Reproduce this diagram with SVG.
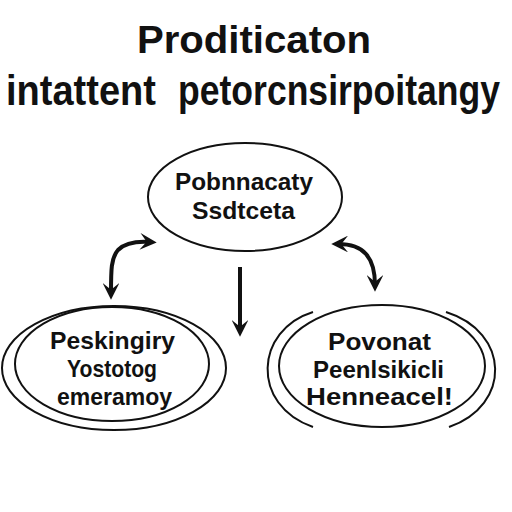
<svg xmlns="http://www.w3.org/2000/svg" width="512" height="512" viewBox="0 0 512 512">
<defs>
<style>
.t{font-family:"Liberation Sans",Arial,sans-serif;font-weight:bold;fill:#111}
.n{font-family:"Liberation Sans",Arial,sans-serif;font-weight:bold;fill:#111;font-size:24px}
.e{fill:none;stroke:#111;stroke-width:2}
.c{fill:none;stroke:#111;stroke-width:4}
</style>
<marker id="ah" viewBox="0 0 10 10" refX="6" refY="5" markerWidth="4.2" markerHeight="4.2" orient="auto-start-reverse">
<path d="M0,0 L10,5 L0,10 L4,5 Z" fill="#111"/>
</marker>
</defs>
<rect width="512" height="512" fill="#fff"/>
<g id="title">
<text class="t" x="137" y="53" font-size="38" textLength="234" lengthAdjust="spacingAndGlyphs">Proditicaton</text>
<text class="t" transform="translate(6,105) scale(1,1.3)" x="0" y="0" font-size="32" textLength="150" lengthAdjust="spacingAndGlyphs">intattent</text>
<text class="t" transform="translate(178,105) scale(1,1.3)" x="0" y="0" font-size="32" textLength="322" lengthAdjust="spacingAndGlyphs">petorcnsirpoitangy</text>
</g>
<g id="node-top">
<ellipse class="e" cx="245" cy="197" rx="97" ry="54"/>
<text class="n" x="175" y="190" font-size="25" textLength="138" lengthAdjust="spacingAndGlyphs">Pobnnacaty</text>
<text class="n" x="192" y="219" font-size="25" textLength="103" lengthAdjust="spacingAndGlyphs">Ssdtceta</text>
</g>
<g id="node-left">
<ellipse class="e" cx="112" cy="364" rx="97" ry="57"/>
<ellipse class="e" cx="114" cy="368" rx="112" ry="62"/>
<text class="n" x="50" y="349" textLength="125" lengthAdjust="spacingAndGlyphs">Peskingiry</text>
<text class="n" x="67" y="377" textLength="90" lengthAdjust="spacingAndGlyphs">Yostotog</text>
<text class="n" x="57" y="405" textLength="115" lengthAdjust="spacingAndGlyphs">emeramoy</text>
</g>
<g id="node-right">
<ellipse class="e" cx="382" cy="366" rx="103" ry="61"/>
<path class="e" d="M313,312 C255,330 250,405 313,427"/>
<path class="e" d="M446,312 C510,332 512,405 449,427"/>
<text class="n" x="328" y="350" textLength="103" lengthAdjust="spacingAndGlyphs">Povonat</text>
<text class="n" x="313" y="378" textLength="131" lengthAdjust="spacingAndGlyphs">Peenlsikicli</text>
<text class="n" x="306" y="405" textLength="147" lengthAdjust="spacingAndGlyphs">Henneacel!</text>
</g>
<g id="connectors">
<path class="c" d="M150,242 C135,241 125,243 118,250 C111,258 111,270 111,293" marker-start="url(#ah)" marker-end="url(#ah)"/>
<path class="c" d="M240,267 L240,330" marker-end="url(#ah)"/>
<path class="c" d="M338,244 C350,244 360,247 366,254 C373,262 375,275 375,285" marker-start="url(#ah)" marker-end="url(#ah)"/>
</g>
</svg>
